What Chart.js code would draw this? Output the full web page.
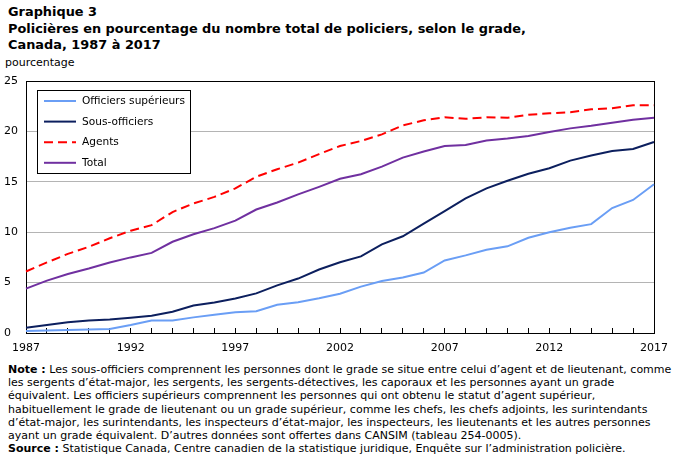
<!DOCTYPE html>
<html lang="fr">
<head>
<meta charset="utf-8">
<script src="https://cdn.jsdelivr.net/npm/chart.js@4.4.0/dist/chart.umd.min.js"></script>
<style>
  html, body { margin: 0; padding: 0; background: #fff; }
  body { width: 676px; height: 456px; position: relative; overflow: hidden; font-family: 'DejaVu Sans', sans-serif; color: #000; }
  #title { position: absolute; left: 8px; top: 4px; font-weight: bold; font-size: 12.9px; line-height: 16.5px; white-space: nowrap; }
  #unit { position: absolute; left: 5px; top: 56px; font-size: 11px; white-space: nowrap; }
  #wrap { position: absolute; left: 0; top: 0; width: 676px; height: 362px; }
  #notes { position: absolute; left: 8px; top: 363px; font-size: 11px; line-height: 13.2px; white-space: nowrap; }
</style>
</head>
<body>
<div id="title">Graphique 3<br>Policières en pourcentage du nombre total de policiers, selon le grade,<br>Canada, 1987 à 2017</div>
<div id="unit">pourcentage</div>
<div id="wrap"><canvas id="chart" width="676" height="362"></canvas></div>
<div id="notes"><b>Note :</b> Les sous-officiers comprennent les personnes dont le grade se situe entre celui d’agent et de lieutenant, comme<br>les sergents d’état-major, les sergents, les sergents-détectives, les caporaux et les personnes ayant un grade<br>équivalent. Les officiers supérieurs comprennent les personnes qui ont obtenu le statut d’agent supérieur,<br>habituellement le grade de lieutenant ou un grade supérieur, comme les chefs, les chefs adjoints, les surintendants<br>d’état-major, les surintendants, les inspecteurs d’état-major, les inspecteurs, les lieutenants et les autres personnes<br>ayant un grade équivalent. D’autres données sont offertes dans CANSIM (tableau 254-0005).<br><b>Source :</b> Statistique Canada, Centre canadien de la statistique juridique, Enquête sur l’administration policière.</div>
<script>
// years 1987 to 2017
const years = ['1987', '1988', '1989', '1990', '1991', '1992', '1993', '1994', '1995', '1996',
  '1997', '1998', '1999', '2000', '2001', '2002', '2003', '2004', '2005', '2006',
  '2007', '2008', '2009', '2010', '2011', '2012', '2013', '2014', '2015', '2016', '2017'];

const officiers = [0.2, 0.25, 0.3, 0.35, 0.4, 0.8, 1.25, 1.25, 1.55, 1.8,
  2.05, 2.15, 2.8, 3.05, 3.45, 3.9, 4.6, 5.15, 5.5, 6.0,
  7.2, 7.7, 8.25, 8.6, 9.45, 10.0, 10.45, 10.8, 12.4, 13.2, 14.75];

const sousOfficiers = [0.53, 0.8, 1.06, 1.25, 1.33, 1.52, 1.72, 2.1, 2.72, 3.03,
  3.43, 3.93, 4.72, 5.4, 6.3, 7.02, 7.6, 8.8, 9.6, 10.85,
  12.1, 13.35, 14.35, 15.1, 15.8, 16.35, 17.1, 17.6, 18.05, 18.25, 18.95];

const agents = [6.1, 7.0, 7.85, 8.55, 9.4, 10.15, 10.7, 12.0, 12.85, 13.5,
  14.35, 15.5, 16.25, 16.9, 17.75, 18.55, 19.05, 19.7, 20.6, 21.1,
  21.4, 21.25, 21.4, 21.35, 21.65, 21.8, 21.9, 22.2, 22.3, 22.6, 22.6];

const total = [4.4, 5.2, 5.85, 6.4, 7.0, 7.5, 7.95, 9.05, 9.8, 10.4,
  11.15, 12.25, 12.95, 13.75, 14.5, 15.3, 15.75, 16.5, 17.4, 18.0,
  18.55, 18.65, 19.1, 19.3, 19.55, 19.95, 20.3, 20.55, 20.85, 21.15, 21.35];

const yTicks = [0, 5, 10, 15, 20, 25];

const FONT = "'DejaVu Sans', sans-serif";

// black frame round the plot area
const framePlugin = {
  id: 'frame',
  beforeDatasetsDraw(chart) {
    const { ctx, chartArea: a } = chart;
    ctx.save();
    ctx.strokeStyle = '#000';
    ctx.lineWidth = 1;
    ctx.strokeRect(Math.round(a.left) + 0.5, Math.round(a.top) + 0.5,
      Math.round(a.right - a.left), Math.round(a.bottom - a.top));
    ctx.restore();
  },
};

// boxed legend inside the plot, top left
const boxLegend = {
  id: 'boxLegend',
  afterDraw(chart) {
    const { ctx } = chart;
    const x = 37.5, y = 90.5, w = 153, h = 83;
    ctx.save();
    ctx.fillStyle = '#fff';
    ctx.fillRect(x, y, w, h);
    ctx.strokeStyle = '#000';
    ctx.lineWidth = 1;
    ctx.strokeRect(x, y, w, h);
    ctx.font = `10.6px ${FONT}`;
    ctx.textBaseline = 'middle';
    chart.data.datasets.forEach((ds, i) => {
      const ly = 101 + i * 20.6;
      ctx.beginPath();
      ctx.setLineDash(ds.borderDash || []);
      ctx.strokeStyle = ds.borderColor;
      ctx.lineWidth = ds.borderWidth;
      ctx.moveTo(44, ly);
      ctx.lineTo(76, ly);
      ctx.stroke();
      ctx.setLineDash([]);
      ctx.fillStyle = '#000';
      ctx.fillText(ds.label, 82, ly + 0.5);
    });
    ctx.restore();
  },
};

new Chart(document.getElementById('chart'), {
  type: 'line',
  data: {
    labels: years,
    datasets: [
      { label: 'Officiers supérieurs', data: officiers, borderColor: '#6a9ef5', borderWidth: 2 },
      { label: 'Sous-officiers', data: sousOfficiers, borderColor: '#0c1f5e', borderWidth: 2 },
      { label: 'Agents', data: agents, borderColor: '#ff0000', borderWidth: 2, borderDash: [9, 5] },
      { label: 'Total', data: total, borderColor: '#7030a0', borderWidth: 2 },
    ],
  },
  options: {
    responsive: false,
    animation: false,
    events: [],
    elements: { point: { radius: 0 }, line: { tension: 0 } },
    layout: { padding: { top: 81, left: 4, right: 22, bottom: 0 } },
    plugins: {
      legend: { display: false },
      tooltip: { enabled: false },
    },
    scales: {
      x: {
        type: 'category',
        offset: false,
        border: { display: false },
        grid: { drawOnChartArea: false, drawTicks: true, tickLength: -5, color: '#000' },
        ticks: {
          autoSkip: false,
          maxRotation: 0,
          padding: 14,
          color: '#000',
          font: { family: FONT, size: 11 },
          callback: (v, i) => (i % 5 === 0 ? years[i] : ''),
        },
        afterFit: s => {
          s.height = 29;
          // end labels may overhang the plot; keep the plot width fixed
          s.paddingLeft = 0;
          s.paddingRight = 0;
        },
      },
      y: {
        min: 0,
        max: 25,
        border: { display: false },
        grid: { color: '#b4b4b4', drawTicks: false },
        afterBuildTicks: s => { s.ticks = yTicks.map(v => ({ value: v })); },
        ticks: {
          crossAlign: 'far',
          padding: 0,
          color: '#000',
          font: { family: FONT, size: 11 },
        },
        afterFit: s => { s.width = 22; },
      },
    },
  },
  plugins: [framePlugin, boxLegend],
});
</script>
</body>
</html>
